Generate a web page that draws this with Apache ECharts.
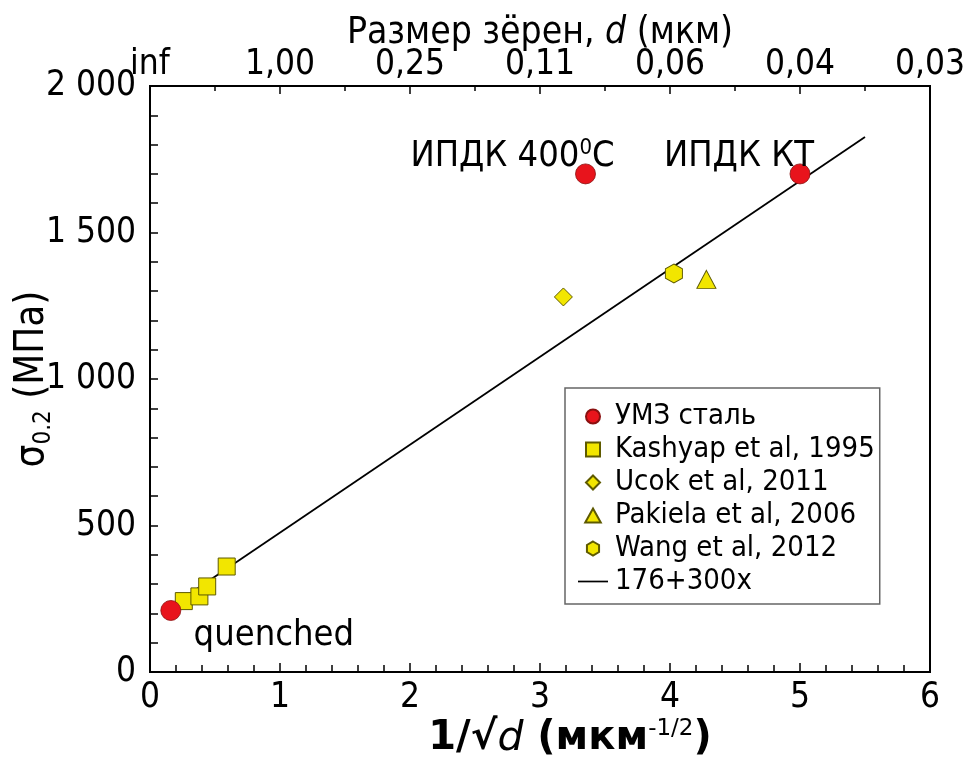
<!DOCTYPE html>
<html>
<head>
<meta charset="utf-8">
<script src="https://cdn.jsdelivr.net/npm/echarts@6/dist/echarts.min.js"></script>
<style>
  html, body { margin: 0; padding: 0; background: #fff; }
  #chart { width: 972px; height: 760px; }
</style>
</head>
<body>
<div id="chart"></div>
<script>
// Yield strength vs inverse square root of grain size (Hall–Petch plot)
const umzSteel = [[0.16, 210], [3.35, 1700], [5.0, 1700]];
const umzNotes = ['quenched', 'ИПДК 400{sup|0}C', 'ИПДК КТ'];
const kashyap1995 = [[0.26, 242], [0.38, 258], [0.44, 292], [0.59, 360]];
const ucok2011 = [[3.18, 1280]];
const pakiela2006 = [[4.28, 1340]];
const wang2012 = [[4.03, 1360]];

// Fit: sigma = 176 + 300 * x
const fitIntercept = 176;
const fitSlope = 300;
const fitRange = [0.1, 5.5];

// Grain size labels for the top axis (d = 1 / x^2)
const topTickLabels = ['inf', '1,00', '0,25', '0,11', '0,06', '0,04', '0,03'];

const seriesNames = ['УМЗ сталь', 'Kashyap et al, 1995', 'Ucok et al, 2011', 'Pakiela et al, 2006', 'Wang et al, 2012', '176+300x'];

const FONT = '"DejaVu Sans Condensed", "DejaVu Sans", sans-serif';
const FONT_WIDE = '"DejaVu Sans", sans-serif';
const RED = '#e8141c';
const RED_EDGE = '#8a1010';
const YELLOW = '#f2e600';
const YELLOW_EDGE = '#5e5a00';

// Marker shapes (paths keep their aspect inside the legend)
const hexagon = 'path://M0,-10 L8.66,-5 L8.66,5 L0,10 L-8.66,5 L-8.66,-5 Z';
const circleIcon = 'path://M10,0 A10,10 0 1,1 -10,0 A10,10 0 1,1 10,0 Z';
const squareIcon = 'path://M-10,-10 L10,-10 L10,10 L-10,10 Z';
const diamondIcon = 'path://M0,-10 L10,0 L0,10 L-10,0 Z';
const triangleIcon = 'path://M0,-10 L10,8 L-10,8 Z';
const lineIcon = 'path://M0,0 L30,0 L30,1.7 L0,1.7 Z';

const fitLine = fitRange.map(x => [x, fitIntercept + fitSlope * x]);

const labelOffsets = [[103, 25], [-73, -17], [-61, -17]];

const chart = echarts.init(document.getElementById('chart'));

chart.setOption({
  animation: false,
  textStyle: { fontFamily: FONT, color: '#000' },
  grid: {
    left: 150, right: 42, top: 86, bottom: 88,
    outerBoundsMode: 'none', containLabel: false,
    show: true, borderColor: '#000', borderWidth: 2, backgroundColor: 'transparent'
  },
  xAxis: [
    {
      type: 'value', position: 'bottom', min: 0, max: 6, interval: 1,
      axisLine: { lineStyle: { color: '#000', width: 2 } },
      axisTick: { inside: true, length: 9, lineStyle: { color: '#000', width: 1.5 } },
      minorTick: { show: true, splitNumber: 5, length: 7, lineStyle: { color: '#000', width: 1.5 } },
      splitLine: { show: false },
      axisLabel: { fontSize: 35, margin: 8, color: '#000', fontFamily: FONT },
      name: '{b|1/√}{i|d}{b| (мкм}{sup|-1/2}{b|)}',
      nameLocation: 'middle',
      nameMoveOverlap: false,
      nameGap: 46,
      nameTextStyle: {
        padding: [0, 0, 0, 60],
        verticalAlign: 'top',
        rich: {
          b: { fontSize: 40, fontWeight: 'bold', fontFamily: FONT_WIDE, lineHeight: 42, color: '#000' },
          i: { fontSize: 41, fontStyle: 'italic', fontFamily: FONT_WIDE, lineHeight: 42, color: '#000' },
          sup: { fontSize: 23, fontFamily: FONT_WIDE, verticalAlign: 'top', lineHeight: 42, color: '#000' }
        }
      }
    },
    {
      type: 'value', position: 'top', min: 0, max: 6, interval: 1,
      axisLine: { lineStyle: { color: '#000', width: 2 } },
      axisTick: { inside: true, length: 8, lineStyle: { color: '#000', width: 1.5 } },
      minorTick: { show: true, splitNumber: 2, length: 5, lineStyle: { color: '#000', width: 1.5 } },
      splitLine: { show: false },
      axisLabel: {
        fontSize: 35, margin: 4, color: '#000', fontFamily: FONT,
        formatter: v => topTickLabels[Math.round(v)]
      },
      name: '{r|Размер зёрен, }{i|d}{r| (мкм)}',
      nameLocation: 'middle',
      nameMoveOverlap: false,
      nameGap: 34,
      nameTextStyle: {
        verticalAlign: 'bottom',
        rich: {
          r: { fontSize: 37, fontFamily: FONT, color: '#000' },
          i: { fontSize: 37, fontStyle: 'italic', fontFamily: FONT, color: '#000' }
        }
      }
    }
  ],
  yAxis: {
    type: 'value', min: 0, max: 2000, interval: 500,
    axisLine: { show: true, lineStyle: { color: '#000', width: 2 } },
    axisTick: { show: true, inside: true, length: 8, lineStyle: { color: '#000', width: 1.5 } },
    minorTick: { show: true, splitNumber: 5, length: 8, lineStyle: { color: '#000', width: 1.5 } },
    splitLine: { show: false },
    axisLabel: {
      fontSize: 35, margin: 14, color: '#000', fontFamily: FONT,
      formatter: v => String(v).replace(/\B(?=(\d{3})+(?!\d))/g, ' ')
    },
    name: '{s|σ}{sub|0.2}{s| (МПа)}',
    nameLocation: 'middle',
    nameRotate: 90,
    nameMoveOverlap: false,
    nameGap: 117,
    nameTextStyle: {
      verticalAlign: 'middle',
      rich: {
        s: { fontSize: 40, fontFamily: FONT, lineHeight: 46, color: '#000' },
        sub: { fontSize: 24, fontFamily: FONT, verticalAlign: 'bottom', lineHeight: 46, color: '#000' }
      }
    }
  },
  legend: {
    orient: 'vertical',
    left: 565, top: 388,
    padding: [14, 5, 8, 13],
    itemWidth: 30, itemHeight: 14, itemGap: 4,
    symbolKeepAspect: true,
    borderColor: '#666', borderWidth: 1.5,
    backgroundColor: '#fff',
    textStyle: { fontSize: 29, fontFamily: FONT, color: '#000', padding: [0, 0, 0, 2] },
    data: [
      { name: seriesNames[0], icon: circleIcon },
      { name: seriesNames[1], icon: squareIcon },
      { name: seriesNames[2], icon: diamondIcon },
      { name: seriesNames[3], icon: triangleIcon },
      { name: seriesNames[4], icon: hexagon },
      { name: seriesNames[5], icon: lineIcon }
    ]
  },
  series: [
    {
      name: seriesNames[5], type: 'line', xAxisIndex: 0,
      data: fitLine, showSymbol: false, symbol: 'none',
      lineStyle: { color: '#000', width: 1.8 }, itemStyle: { color: '#000' }, z: 2
    },
    {
      name: seriesNames[1], type: 'scatter', data: kashyap1995, symbol: 'rect', symbolSize: 17,
      itemStyle: { color: YELLOW, borderColor: YELLOW_EDGE, borderWidth: 1, opacity: 1 }, z: 3
    },
    {
      name: seriesNames[2], type: 'scatter', data: ucok2011, symbol: 'diamond', symbolSize: 18,
      itemStyle: { color: YELLOW, borderColor: YELLOW_EDGE, borderWidth: 1, opacity: 1 }, z: 3
    },
    {
      name: seriesNames[3], type: 'scatter', data: pakiela2006, symbol: 'triangle', symbolSize: [19, 18],
      itemStyle: { color: YELLOW, borderColor: YELLOW_EDGE, borderWidth: 1, opacity: 1 }, z: 3
    },
    {
      name: seriesNames[4], type: 'scatter', data: wang2012, symbol: hexagon, symbolSize: [17, 19],
      itemStyle: { color: YELLOW, borderColor: YELLOW_EDGE, borderWidth: 1, opacity: 1 }, z: 3
    },
    {
      name: seriesNames[0], type: 'scatter', symbol: 'circle', symbolSize: 20,
      itemStyle: { color: RED, borderColor: RED_EDGE, borderWidth: 0.8, opacity: 1 }, z: 4,
      data: umzSteel.map((p, i) => ({
        value: p,
        label: {
          show: true,
          formatter: umzNotes[i],
          position: 'inside',
          offset: labelOffsets[i],
          fontSize: 36, fontFamily: FONT, color: '#000',
          rich: {
            sup: { fontSize: 22, fontFamily: FONT, verticalAlign: 'top', lineHeight: 40, color: '#000' }
          }
        }
      }))
    }
  ]
});
</script>
</body>
</html>
